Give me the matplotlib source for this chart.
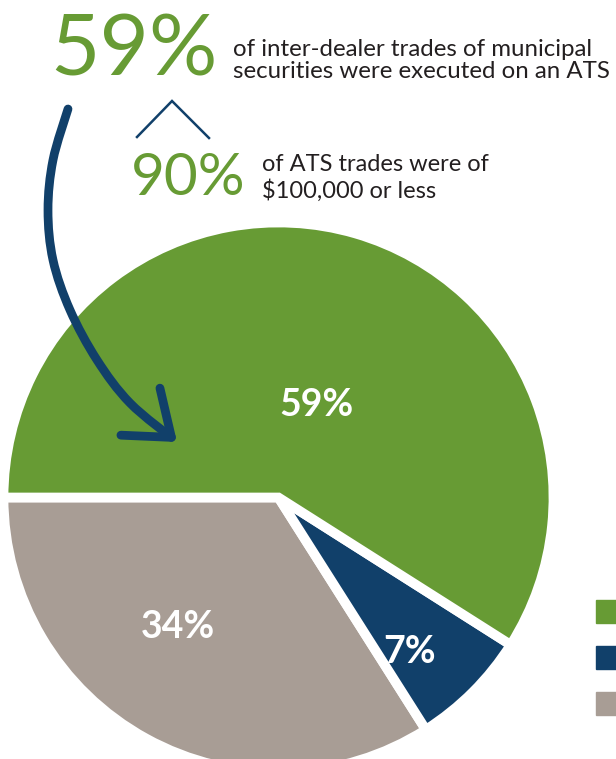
import numpy as np
import matplotlib.pyplot as plt
from matplotlib.patches import FancyArrowPatch, Rectangle
from matplotlib.path import Path

# share of inter-dealer municipal trades by venue
shares = [59, 7, 34]
colors = ['#679B34', '#11406A', '#A89D95']

headline_pct = '59%'
headline_text = ['of inter-dealer trades of municipal',
                 'securities were executed on an ATS']
sub_pct = '90%'
sub_text = ['of ATS trades were of', '$100,000 or less']

W, H = 616, 759
green = '#679B34'
navy = '#11406A'
ink = '#231F20'
plt.rcParams['font.family'] = ['Lato', 'DejaVu Sans']

fig = plt.figure(figsize=(W / 100, H / 100), dpi=100)
ax = fig.add_axes([0, 0, 1, 1])

# pie, cut off by the bottom edge of the figure
wedges, _, pct_texts = ax.pie(shares, colors=colors, startangle=180, counterclock=False,
                              center=(278.5, H - 497.5), radius=275,
                              autopct=lambda p: f'{round(p)}%',
                              wedgeprops=dict(edgecolor='white', linewidth=7),
                              textprops=dict(color='white', fontsize=27, fontweight='bold'))

# green slice on top so its white border cuts into the others
for w, z in zip(wedges, [3, 2, 1]):
    w.set_zorder(z)

# move the percentage labels (radius fraction, angle offset from wedge middle)
label_place = [(0.363, -5.9), (0.738, -4.6), (0.596, -9.0)]
for w, t, (rf, off) in zip(wedges, pct_texts, label_place):
    ang = np.deg2rad((w.theta1 + w.theta2) / 2 + off)
    t.set_position((w.center[0] + rf * w.r * np.cos(ang),
                    w.center[1] + rf * w.r * np.sin(ang)))
    t.set_ha('center')
    t.set_va('center')
    t.set_zorder(5)

ax.set_xlim(0, W)
ax.set_ylim(0, H)
ax.set_aspect('equal')
ax.axis('off')

# legend swatches at the right edge
for i, c in enumerate(colors):
    ax.add_patch(Rectangle((596, H - 623 - 46 * i), 23, 23, color=c))

# headline numbers and captions
ax.text(50, H - 75, headline_pct, color=green, fontsize=61.5,
        ha='left', va='baseline')
ax.text(233, H - 56, headline_text[0], color=ink, fontsize=17.3, ha='left', va='baseline')
ax.text(233, H - 78, headline_text[1], color=ink, fontsize=17.3, ha='left', va='baseline')

ax.text(131, H - 195, sub_pct, color=green, fontsize=42,
        ha='left', va='baseline')
ax.text(262, H - 171, sub_text[0], color=ink, fontsize=17, ha='left', va='baseline')
ax.text(262, H - 198, sub_text[1], color=ink, fontsize=17, ha='left', va='baseline')

# small caret between the two numbers
ax.plot([137, 172, 209], [H - 137, H - 101, H - 138], color=navy, lw=1.8,
        solid_joinstyle='miter')

# curved arrow sweeping into the green slice: catmull-rom through a few guide points
guide = np.array([(68, 109), (53, 160), (48, 210), (53, 260), (70, 310),
                  (97, 360), (130, 403), (177, 442)], dtype=float)
guide[:, 1] = H - guide[:, 1]
padded = np.vstack([guide[0], guide, guide[-1]])
verts, codes = [guide[0]], [Path.MOVETO]
for i in range(1, len(padded) - 2):
    p0, p1, p2, p3 = padded[i - 1], padded[i], padded[i + 1], padded[i + 2]
    verts += [p1 + (p2 - p0) / 6, p2 - (p3 - p1) / 6, p2]
    codes += [Path.CURVE4] * 3
arrow = FancyArrowPatch(path=Path(verts, codes),
                        arrowstyle='->,head_length=29,head_width=22',
                        color=navy, lw=6.3, capstyle='round', joinstyle='round',
                        zorder=6)
ax.add_patch(arrow)

fig.savefig('out.png', dpi=100)
